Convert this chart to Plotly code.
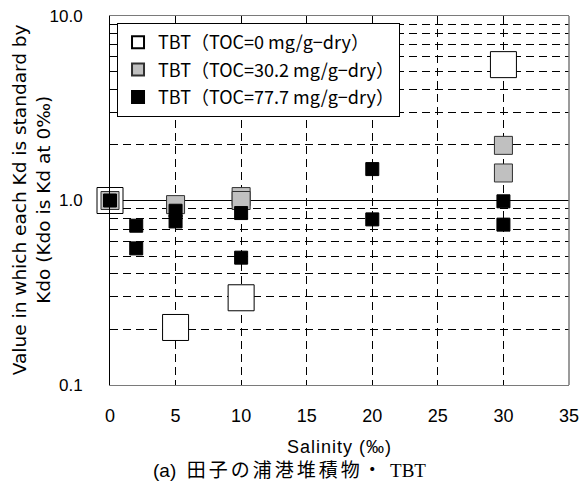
import plotly.graph_objects as go

# Data
white_x = [0, 5, 10, 30]
white_y = [1.0, 0.205, 0.297, 5.45]

gray_x = [0, 5, 10, 10, 30, 30]
gray_y = [1.0, 0.95, 1.05, 1.0, 1.99, 1.41]

black_x = [0, 2, 2, 5, 5, 10, 10, 20, 20, 30, 30]
black_y = [1.0, 0.73, 0.55, 0.88, 0.77, 0.855, 0.49, 1.48, 0.79, 0.99, 0.74]

names = ["TBT（TOC=0 mg/g−dry）", "TBT（TOC=30.2 mg/g−dry）", "TBT（TOC=77.7 mg/g−dry）"]
x_ticks = [0, 5, 10, 15, 20, 25, 30, 35]
y_ticks = [0.1, 1, 10]
y_ticklabels = ["0.1", "1.0", "10.0"]
y_minor = [0.2, 0.3, 0.4, 0.5, 0.6, 0.7, 0.8, 0.9, 2, 3, 4, 5, 6, 7, 8, 9]

FONT = "Liberation Sans, Arial, sans-serif"
WIDE = "DejaVu Sans, sans-serif"
LEGFONT = "Noto Sans CJK JP, sans-serif"

fig = go.Figure()
fig.add_trace(go.Scatter(x=white_x, y=white_y, mode="markers", name=names[0], legendgroup="a",
                         marker=dict(symbol="square", size=26, color="white", line=dict(color="black", width=1)),
                         cliponaxis=False))
fig.add_trace(go.Scatter(x=gray_x, y=gray_y, mode="markers", name=names[1], legendgroup="b",
                         marker=dict(symbol="square", size=18, color="#c0c0c0", line=dict(color="#303030", width=1)),
                         cliponaxis=False))
fig.add_trace(go.Scatter(x=black_x, y=black_y, mode="markers", name=names[2], legendgroup="c",
                         marker=dict(symbol="square", size=13, color="black", line=dict(color="black", width=1)),
                         cliponaxis=False))

fig.update_layout(
    width=581, height=481,
    margin=dict(l=110, r=12, t=16, b=96, autoexpand=False),
    plot_bgcolor="white", paper_bgcolor="white",
    font=dict(family=FONT, size=15, color="black"),
    showlegend=True,
    legend=dict(x=0.0153, y=0.981, xanchor="left", yanchor="top",
                bgcolor="white", bordercolor="black", borderwidth=1,
                font=dict(family=LEGFONT, size=18, color="black"),
                itemsizing="constant", tracegroupgap=1, itemwidth=30),
    xaxis=dict(range=[0, 35], tickvals=x_ticks, showgrid=True, gridcolor="black", gridwidth=1,
               griddash="8px,5px", zeroline=False, showline=True, linecolor="#7a7a7a", linewidth=1,
               mirror=True, ticks="", tickfont=dict(size=18), ticklabelstandoff=14, automargin=False,
               ticklabeloverflow="allow"),
    yaxis=dict(type="log", range=[-1, 1], tickvals=y_ticks, ticktext=y_ticklabels,
               showgrid=True, gridcolor="black", gridwidth=1, zeroline=False,
               showline=True, linecolor="black", linewidth=1, mirror=False, ticks="",
               tickfont=dict(size=17), ticklabelstandoff=23, automargin=False,
               ticklabeloverflow="allow",
               minor=dict(tickvals=y_minor, showgrid=True, gridcolor="black", gridwidth=1,
                          griddash="8px,5px", ticks="")),
    shapes=[dict(type="line", xref="paper", yref="paper", x0=1, x1=1, y0=0, y1=1,
                 line=dict(color="#7a7a7a", width=1.5))],
    annotations=[
        dict(text="<span style=\"letter-spacing:1px\">Salinity (‰)</span>", x=0.5, y=-0.167,
             xref="paper", yref="paper",
             showarrow=False, font=dict(size=18, family=FONT), xanchor="center", yanchor="middle"),
        dict(text="(a)  <span style=\"letter-spacing:3px\">田子の浦港堆積物・</span> "
                  "<span style=\"font-family:Liberation Serif\">TBT</span>",
             x=0.392, y=-0.232, xref="paper", yref="paper", showarrow=False,
             font=dict(size=19, family="Liberation Sans, Noto Sans CJK JP"), xanchor="center", yanchor="middle"),
        dict(text="Value in which each Kd is standard by<br>Kdo (Kdo is Kd at 0‰)",
             x=-0.172, y=0.501, xref="paper", yref="paper", showarrow=False, textangle=-90,
             font=dict(size=18.5, family=WIDE), xanchor="center", yanchor="middle"),
    ],
)

# remove the default 8px page margin so the figure fills the window exactly
fig.write_html("out.html", config={"displayModeBar": False},
               post_script="document.body.style.margin='0';")
